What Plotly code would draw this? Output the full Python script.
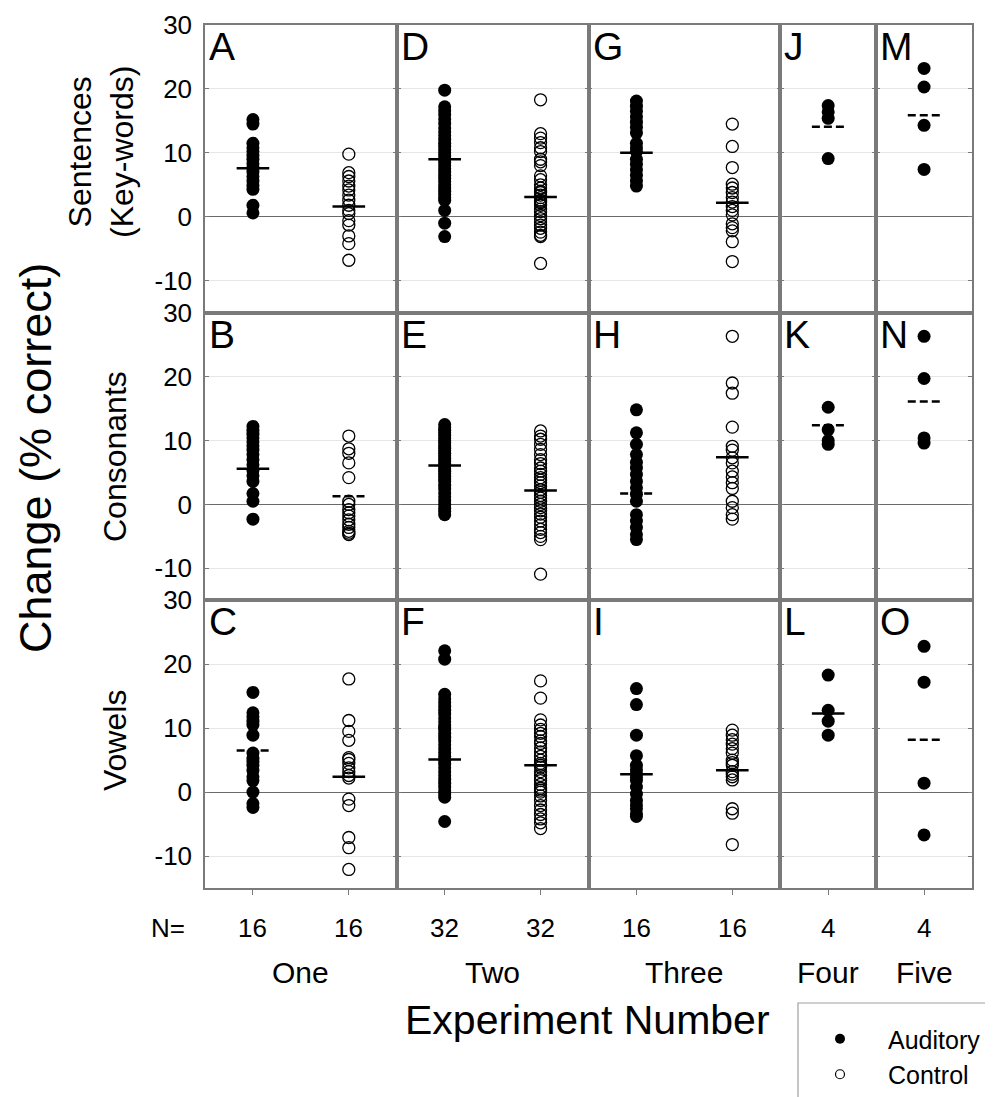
import plotly.graph_objects as go
from plotly.subplots import make_subplots

# ---------------- data ----------------
experiments = ["One", "Two", "Three", "Four", "Five"]
measures = ["Sentences<br>(Key-words)", "Consonants", "Vowels"]
panel_letters = [["A", "D", "G", "J", "M"],
                 ["B", "E", "H", "K", "N"],
                 ["C", "F", "I", "L", "O"]]
n_auditory = [16, 32, 16, 4, 4]
n_control = [16, 32, 16]
y_ticks = [-10, 0, 10, 20, 30]
y_tick_text = ["-10", "0", "10", "20", "30"]

# Sentences
sent_one_aud = [15.2, 14.5, 11.5, 10.8, 10.2, 9.6, 9.0, 8.3, 7.6, 7.0, 6.3, 5.6, 4.9, 4.3, 1.8, 0.6]
sent_one_ctl = [9.8, 6.9, 6.3, 5.6, 4.8, 4.2, 3.4, 2.6, 1.8, 1.0, 0.5, -0.6, -1.3, -3.0, -4.2, -6.8]
sent_two_aud = [19.8, 17.2, 16.6, 16.0, 15.3, 14.6, 13.9, 13.3, 12.7, 12.1, 11.5, 11.0, 10.5, 10.0, 9.5, 9.0,
                8.5, 8.0, 7.5, 7.0, 6.5, 6.0, 5.5, 5.0, 4.5, 4.0, 3.5, 3.0, 2.6, 1.0, -1.0, -3.1]
sent_two_ctl = [18.3, 13.0, 12.3, 11.6, 10.8, 10.2, 9.0, 8.6, 8.0, 6.4, 5.8, 5.0, 4.5, 4.0, 3.8, 3.4,
                3.0, 2.6, 2.4, 2.2, 1.8, 1.2, 0.8, 0.2, -0.3, -0.8, -1.3, -1.8, -2.4, -2.9, -3.1, -7.3]
sent_three_aud = [18.1, 17.3, 16.5, 15.6, 14.8, 14.0, 13.1, 11.5, 10.8, 10.2, 9.0, 8.2, 7.3, 6.5, 5.6, 4.8]
sent_three_ctl = [14.5, 11.0, 7.7, 5.1, 4.5, 3.8, 3.0, 2.3, 1.6, 1.0, 0.3, -1.1, -1.7, -2.2, -3.9, -7.0]
sent_four_aud = [17.4, 16.4, 15.4, 9.1]
sent_five_aud = [23.2, 20.3, 14.3, 7.4]

# Consonants
cons_one_aud = [12.2, 11.6, 11.0, 10.4, 9.8, 9.2, 8.5, 7.8, 7.0, 6.2, 5.3, 4.5, 3.6, 1.7, 0.5, -2.3]
cons_one_ctl = [10.7, 8.7, 8.0, 6.5, 4.2, 0.5, 0.0, -0.8, -1.3, -1.8, -2.4, -3.1, -3.6, -4.2, -4.5, -4.7]
cons_two_aud = [12.5, 12.0, 11.6, 11.2, 10.8, 10.4, 10.0, 9.6, 9.2, 8.8, 8.4, 8.0, 7.6, 7.2, 6.8, 6.4,
                6.0, 5.6, 5.2, 4.8, 4.4, 4.0, 3.6, 3.0, 2.4, 1.8, 1.2, 0.6, 0.0, -0.6, -1.1, -1.6]
cons_two_ctl = [11.5, 10.7, 10.2, 9.4, 8.6, 7.8, 7.0, 6.4, 5.7, 5.2, 4.7, 4.2, 3.8, 3.4, 2.9, 2.3,
                1.9, 1.4, 1.0, 0.5, 0.0, -0.5, -1.0, -1.5, -2.0, -2.6, -3.2, -3.9, -4.4, -5.0, -5.5, -10.9]
cons_three_aud = [14.8, 11.2, 9.4, 7.8, 6.6, 5.7, 4.7, 3.6, 2.6, 1.6, 0.5, -1.6, -2.6, -3.6, -4.7, -5.5]
cons_three_ctl = [26.3, 19.0, 17.4, 12.1, 9.1, 8.5, 7.3, 6.5, 5.2, 4.3, 3.4, 2.5, 0.5, -0.5, -1.6, -2.3]
cons_four_aud = [15.2, 11.7, 10.0, 9.4]
cons_five_aud = [26.3, 19.7, 10.4, 9.6]

# Vowels
vow_one_aud = [15.6, 12.4, 11.8, 11.1, 10.5, 8.9, 6.1, 5.3, 4.8, 4.2, 3.4, 2.4, 1.8, 0.0, -1.8, -2.4]
vow_one_ctl = [17.7, 11.2, 9.5, 8.1, 5.4, 5.1, 4.5, 3.8, 3.2, 2.6, 2.2, -1.1, -2.1, -7.1, -8.7, -12.1]
vow_two_aud = [22.1, 20.8, 15.3, 14.6, 14.0, 13.4, 12.8, 12.2, 11.6, 11.0, 10.4, 9.8, 9.2, 8.6, 8.0, 7.4,
               6.8, 6.2, 5.6, 5.0, 4.4, 3.8, 3.2, 2.6, 2.0, 1.4, 0.8, 0.2, -0.3, -0.8, 10.1, -4.6]
vow_two_ctl = [17.4, 14.7, 11.3, 10.5, 9.8, 9.2, 8.7, 8.0, 7.6, 6.9, 6.3, 5.6, 5.0, 4.5, 3.9, 3.2,
               2.6, 1.8, 1.2, 0.6, 0.0, -0.6, -1.3, -2.1, -2.8, -3.5, -4.2, -4.8, -5.7, 4.2, 2.1, 0.3]
vow_three_aud = [16.2, 13.7, 8.9, 5.7, 4.2, 3.5, 2.9, 2.3, 1.8, 0.8, -0.3, -1.3, -2.0, -2.6, -3.4, -3.8]
vow_three_ctl = [9.7, 8.9, 8.2, 7.5, 6.8, 6.1, 5.0, 4.6, 4.2, 3.2, 2.8, 2.4, 1.9, -2.6, -3.3, -8.2]
vow_four_aud = [18.3, 12.8, 11.1, 8.9]
vow_five_aud = [22.8, 17.2, 1.4, -6.7]

# group means, per measure row, per experiment
mean_auditory = [[7.6, 9.0, 10.0, 14.1, 15.9],
                 [5.6, 6.1, 1.7, 12.4, 16.1],
                 [6.5, 5.1, 2.8, 12.3, 8.2]]
mean_control = [[1.6, 3.1, 2.2],
                [1.3, 2.2, 7.4],
                [2.4, 4.2, 3.4]]

auditory = [[sent_one_aud, sent_two_aud, sent_three_aud, sent_four_aud, sent_five_aud],
            [cons_one_aud, cons_two_aud, cons_three_aud, cons_four_aud, cons_five_aud],
            [vow_one_aud, vow_two_aud, vow_three_aud, vow_four_aud, vow_five_aud]]
control = [[sent_one_ctl, sent_two_ctl, sent_three_ctl],
           [cons_one_ctl, cons_two_ctl, cons_three_ctl],
           [vow_one_ctl, vow_two_ctl, vow_three_ctl]]

# ---------------- styles ----------------
DASH = "8px,4px"
aud_mean_dash = [["solid", "solid", "solid", DASH, DASH],
                 ["solid", "solid", DASH, DASH, DASH],
                 [DASH, "solid", "solid", "solid", DASH]]
ctl_mean_dash = [["solid", "solid", "solid"],
                 [DASH, "solid", "solid"],
                 ["solid", "solid", "solid"]]

FONT = "Arial, Liberation Sans, sans-serif"
AXIS_COL = "#7a7a7a"
GRID_COL = "#e6e6e6"
# page body has an 8px margin, so the figure is 8px smaller than the window
W, H = 985, 1089
ML, MR, MT, MB = 197, 21, 17, 209
PW, PH = W - ML - MR, H - MT - MB
OFF = 8


def px(x):
    return (x - OFF - ML) / PW


def py(y):
    return (H - MB - (y - OFF)) / PH


col_units = [2, 2, 2, 1, 1]
fig = make_subplots(rows=3, cols=5, column_widths=col_units,
                    horizontal_spacing=0, vertical_spacing=0)

HALF = 0.17  # half width of mean bar in column units
for r in range(3):
    for c in range(5):
        units = col_units[c]
        aud_x = 0.5
        fig.add_trace(go.Scatter(
            x=[aud_x] * len(auditory[r][c]), y=auditory[r][c], mode="markers",
            marker=dict(symbol="circle", size=13, color="black"),
            showlegend=False, hoverinfo="y"), row=r + 1, col=c + 1)
        fig.add_trace(go.Scatter(
            x=[aud_x - HALF, aud_x + HALF], y=[mean_auditory[r][c]] * 2, mode="lines",
            line=dict(color="black", width=2.5, dash=aud_mean_dash[r][c]),
            showlegend=False, hoverinfo="skip"), row=r + 1, col=c + 1)
        if c < 3:
            ctl_x = 1.5
            fig.add_trace(go.Scatter(
                x=[ctl_x] * len(control[r][c]), y=control[r][c], mode="markers",
                marker=dict(symbol="circle-open", size=12, color="black",
                            line=dict(width=1.3, color="black")),
                showlegend=False, hoverinfo="y"), row=r + 1, col=c + 1)
            fig.add_trace(go.Scatter(
                x=[ctl_x - HALF, ctl_x + HALF], y=[mean_control[r][c]] * 2, mode="lines",
                line=dict(color="black", width=2.5, dash=ctl_mean_dash[r][c]),
                showlegend=False, hoverinfo="skip"), row=r + 1, col=c + 1)
        tickvals = [0.5, 1.5] if units == 2 else [0.5]
        fig.update_xaxes(range=[0, units], showgrid=False, zeroline=False,
                         showline=True, mirror=True, linecolor=AXIS_COL, linewidth=1.5,
                         tickvals=tickvals, showticklabels=False,
                         ticks="outside" if r == 2 else "", ticklen=5,
                         tickcolor=AXIS_COL, automargin=False, row=r + 1, col=c + 1)
        fig.update_yaxes(range=[-15, 30], tickvals=y_ticks, ticktext=y_tick_text,
                         showgrid=True, gridcolor=GRID_COL, gridwidth=1,
                         zeroline=True, zerolinecolor="#6a6a6a", zerolinewidth=1.2,
                         showline=True, mirror="ticks", linecolor=AXIS_COL, linewidth=1.5,
                         ticks="inside", ticklen=4, tickcolor=AXIS_COL,
                         showticklabels=(c == 0), ticklabelstandoff=6,
                         ticklabeloverflow="allow",
                         tickfont=dict(family=FONT, size=26, color="black"),
                         automargin=False, row=r + 1, col=c + 1)

# legend-only traces
fig.add_trace(go.Scatter(x=[None], y=[None], mode="markers", name="Auditory",
                         marker=dict(symbol="circle", size=10, color="black")))
fig.add_trace(go.Scatter(x=[None], y=[None], mode="markers", name="Control",
                         marker=dict(symbol="circle-open", size=9, color="black",
                                     line=dict(width=1.2))))

annotations = []
# panel letters
for r in range(3):
    for c in range(5):
        n = r * 5 + c + 1
        suffix = "" if n == 1 else str(n)
        annotations.append(dict(text=panel_letters[r][c], x=0, y=1,
                                xref=f"x{suffix} domain", yref=f"y{suffix} domain",
                                xanchor="left", yanchor="top", xshift=2, yshift=2,
                                showarrow=False,
                                font=dict(family=FONT, size=39, color="black")))


def label(text, x, y, size, angle=0):
    return dict(text=text, x=px(x), y=py(y), xref="paper", yref="paper",
                xanchor="center", yanchor="middle", textangle=angle,
                showarrow=False, font=dict(family=FONT, size=size, color="black"))


# row labels
annotations.append(label(measures[0], 101, 152, 32, -90))
annotations.append(label(measures[1], 115, 457, 32, -90))
annotations.append(label(measures[2], 115, 741, 32, -90))
annotations.append(label("Change (% correct)", 35, 458, 45, -90))

# N= labels and experiment names
annotations.append(label("N=", 168, 928, 26))
total = sum(col_units)
start = 0
for c in range(5):
    units = col_units[c]
    ns = [n_auditory[c]] + ([n_control[c]] if c < 3 else [])
    for k, nval in enumerate(ns):
        frac = (start + 0.5 + k) / total
        a = label(str(nval), 0, 928, 26)
        a["x"] = frac
        annotations.append(a)
    a = label(experiments[c], 0, 972, 30)
    a["x"] = (start + units / 2) / total
    annotations.append(a)
    start += units

annotations.append(label("Experiment Number", 587, 1020, 41))

fig.update_layout(
    width=W, height=H,
    margin=dict(l=ML, r=MR, t=MT, b=MB, autoexpand=False),
    plot_bgcolor="white", paper_bgcolor="white",
    annotations=annotations,
    showlegend=True,
    legend=dict(x=px(792), y=py(1016), xanchor="left", yanchor="top",
                font=dict(family=FONT, size=25, color="black"),
                bgcolor="rgba(0,0,0,0)", borderwidth=0, itemwidth=86,
                tracegroupgap=0),
    shapes=[dict(type="rect", xref="paper", yref="paper",
                 x0=px(798), x1=px(1010), y0=py(1003), y1=py(1120),
                 line=dict(color="#a0a0a0", width=1.2), fillcolor="rgba(0,0,0,0)")],
)

fig.write_html("out.html")
